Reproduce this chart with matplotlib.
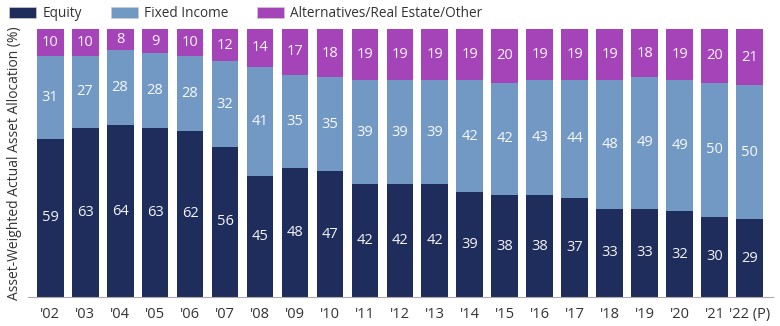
import matplotlib
matplotlib.use("Agg")
import matplotlib.pyplot as plt
from matplotlib.patches import Patch
import numpy as np

years = ["'02", "'03", "'04", "'05", "'06", "'07", "'08", "'09", "'10", "'11", "'12",
         "'13", "'14", "'15", "'16", "'17", "'18", "'19", "'20", "'21", "'22 (P)"]
equity = [59, 63, 64, 63, 62, 56, 45, 48, 47, 42, 42, 42, 39, 38, 38, 37, 33, 33, 32, 30, 29]
fixed = [31, 27, 28, 28, 28, 32, 41, 35, 35, 39, 39, 39, 42, 42, 43, 44, 48, 49, 49, 50, 50]
alts = [10, 10, 8, 9, 10, 12, 14, 17, 18, 19, 19, 19, 19, 20, 19, 19, 19, 18, 19, 20, 21]
series_names = ["Equity", "Fixed Income", "Alternatives/Real Estate/Other"]

colors = ["#1f2d5c", "#7298c4", "#a544b8"]
plt.rcParams['font.family'] = ['Open Sans', 'DejaVu Sans']

fig = plt.figure(figsize=(7.8, 3.26), dpi=100)
ax = fig.add_axes([28/780, 1-297/326, (773-28)/780, (297-29)/326])

x = np.arange(len(years))
w = 0.77
bottom = np.zeros(len(years))
for vals, c in zip([equity, fixed, alts], colors):
    vals = np.array(vals)
    ax.bar(x, vals, w, bottom=bottom, color=c, edgecolor='none')
    for xi, b, v in zip(x, bottom, vals):
        ax.text(xi, b + v/2, str(v), ha='center', va='center', color='white',
                fontsize=10.5, alpha=0.95)
    bottom = bottom + vals

ax.set_xlim(-0.63, len(years) - 1 + 0.66)
ax.set_ylim(0, 100)
ax.set_yticks([])
ax.set_xticks(x)
ax.set_xticklabels(years, fontsize=10.5, color='#333333')
ax.tick_params(axis='x', length=0, pad=7)
for s in ['top', 'right', 'left']:
    ax.spines[s].set_visible(False)
ax.spines['bottom'].set_color('#aaaaaa')
ax.set_ylabel("Asset-Weighted Actual Asset Allocation (%)", fontsize=10, color='#333333', labelpad=4)

handles = [Patch(facecolor=c, edgecolor='#cccccc', linewidth=0.5) for c in colors]
fig.legend(handles, series_names, loc='upper left', bbox_to_anchor=(-0.004, 1.018), ncol=3,
           frameon=False, fontsize=9.8, handlelength=2.0, handleheight=0.8,
           columnspacing=2.1, handletextpad=0.45, labelcolor='#333333')

fig.savefig("out.png", dpi=100)
